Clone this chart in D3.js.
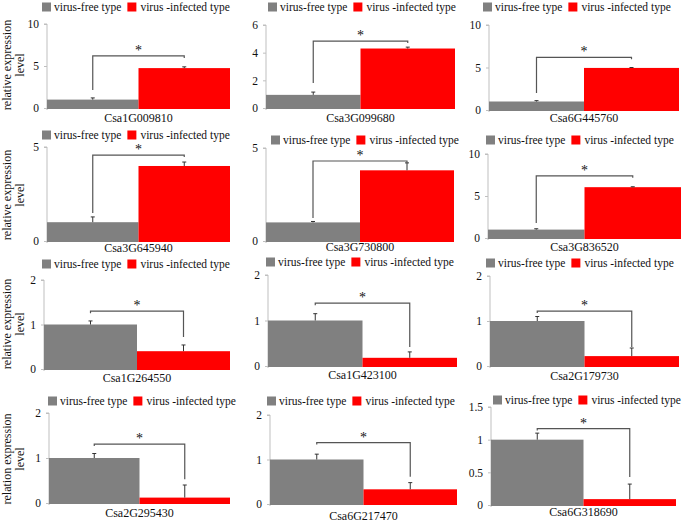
<!DOCTYPE html>
<html><head><meta charset="utf-8">
<script src="https://cdn.jsdelivr.net/npm/d3@7"></script>
<style>body{margin:0;background:#fff}svg{display:block}text{font-family:"Liberation Serif","Times New Roman",serif;fill:#111}</style>
</head><body>
<svg id="c" width="685" height="522"></svg>
<script>
// ---- data ----
const genes = ["Csa1G009810","Csa3G099680","Csa6G445760","Csa3G645940","Csa3G730800","Csa3G836520",
               "Csa1G264550","Csa1G423100","Csa2G179730","Csa2G295430","Csa6G217470","Csa6G318690"];
const seriesNames = ["virus-free type","virus -infected type"];
const freeVals = [1.0,0.95,1.0,1.0,1.0,1.0,1.0,1.0,1.0,1.0,1.0,1.0];
const freeErr  = [0.2,0.2,0.1,0.28,0.05,0.1,0.08,0.15,0.1,0.1,0.12,0.1];
const infVals  = [4.75,4.3,4.95,3.99,3.8,6.05,0.40,0.18,0.22,0.12,0.33,0.09];
const infErr   = [0.15,0.1,0.05,0.21,0.4,0.05,0.14,0.13,0.18,0.28,0.15,0.23];
const yMaxes   = [10,6,10,5,5,10,2,2,2,2,2,1.5];
const yTicks   = [[0,5,10],[0,2,4,6],[0,5,10],[0,5],[0,5],[0,5,10],[0,1,2],[0,1,2],[0,1,2],[0,1,2],[0,1,2],[0,0.5,1,1.5]];
const sigLevel = [6.2,4.84,6.2,4.57,4.3,7.4,1.30,1.38,1.22,1.31,1.38,1.17];
const sigDrop  = [2.14,1.8,2.0,1.49,1.24,1.8,0.72,0.42,0.42,0.53,0.61,0.43];
const yTitles  = [["relative expression","level"],["relative expression","level"],["relative expression","level"],["relation expression","level"]];

// ---- layout (pixels) ----
// [axisX, rightX, topY, baseY, legendX, legendY, labelY]
const layout = [
 [47,230,24,108,42,7,118],[266,455,25,108,268,7,118],[489,679,25,110,483,7,118],
 [47,230,147,241,42,135,248],[266,454,148,241,271,140,247],[488,681,154,238,486,140,247],
 [44,230,280,369,42,264,378],[268,457,275,366,266,262,375],[490,679,276,366,486,263,376],
 [49,230,413,503,48,401,513],[270,457,415,504,267,401,516],[491,676,407,505,493,400,512]];
const titleY = [65,195,324,459];
const colors = ["#808080","#ff0000"];

const svg = d3.select("#c");

genes.forEach((g,i)=>{
  const [ax,rx,ty,by,lx,ly,laby] = layout[i];
  const y = d3.scaleLinear().domain([0,yMaxes[i]]).range([by,ty]);
  const x = d3.scaleBand().domain(seriesNames).range([ax,rx]).padding(0);
  const gp = svg.append("g");
  const vals = [freeVals[i],infVals[i]], errs=[freeErr[i],infErr[i]];

  // axis
  const axis = d3.axisLeft(y).tickValues(yTicks[i]).tickSize(3).tickPadding(5).tickFormat(d3.format("~g"));
  const ag = gp.append("g").attr("transform",`translate(${ax},0)`).call(axis);
  ag.select(".domain").attr("stroke","#bfbfbf").attr("d",`M-3,${ty}H0V${by+2}`);
  ag.selectAll(".tick line").attr("stroke","#bfbfbf");
  ag.selectAll(".tick text").attr("font-size",11.5).attr("font-family","Liberation Serif").attr("fill","#111");

  // bars
  gp.selectAll("rect.bar").data(seriesNames).join("rect")
    .attr("x",d=>x(d)).attr("width",x.bandwidth())
    .attr("y",(d,k)=>y(vals[k])).attr("height",(d,k)=>y(0)-y(vals[k])+1)
    .attr("fill",(d,k)=>colors[k]);

  // error bars (upper)
  seriesNames.forEach((s,k)=>{
    const cx = x(s)+x.bandwidth()/2;
    gp.append("line").attr("x1",cx).attr("x2",cx).attr("y1",y(vals[k])).attr("y2",y(vals[k]+errs[k])).attr("stroke","#333").attr("stroke-width",1);
    gp.append("line").attr("x1",cx-2).attr("x2",cx+2).attr("y1",y(vals[k]+errs[k])).attr("y2",y(vals[k]+errs[k])).attr("stroke","#333").attr("stroke-width",1);
  });

  // significance bracket
  const c0 = x(seriesNames[0])+x.bandwidth()/2, c1 = x(seriesNames[1])+x.bandwidth()/2;
  const up = infVals[i] > freeVals[i];
  const ys = y(sigLevel[i]), yd = y(sigDrop[i]);
  const path = up ? `M${c0},${yd}V${ys}H${c1}V${ys+2}` : `M${c0},${ys+2}V${ys}H${c1}V${yd}`;
  gp.append("path").attr("d",path).attr("fill","none").attr("stroke","#555").attr("stroke-width",1.2);
  gp.append("text").attr("x",(c0+c1)/2).attr("y",ys-1).attr("text-anchor","middle").attr("font-size",14).text("*");

  // category label
  gp.append("text").attr("x",(ax+rx)/2).attr("y",laby+4).attr("text-anchor","middle").attr("font-size",12).text(g);

  // legend
  const lg = gp.append("g").attr("transform",`translate(${lx},${ly})`);
  lg.append("rect").attr("x",0).attr("y",-4.5).attr("width",9).attr("height",9).attr("fill",colors[0]);
  const t1 = lg.append("text").attr("x",12).attr("y",4).attr("font-size",11.5).text(seriesNames[0]);
  const w1 = t1.node().getComputedTextLength();
  lg.append("rect").attr("x",12+w1+6).attr("y",-4.5).attr("width",9).attr("height",9).attr("fill",colors[1]);
  lg.append("text").attr("x",12+w1+6+13).attr("y",4).attr("font-size",11.5).text(seriesNames[1]);
});

// y axis titles
yTitles.forEach((t,r)=>{
  const cy = titleY[r];
  t.forEach((line,j)=>{
    svg.append("text").attr("transform",`translate(${11+j*13},${cy}) rotate(-90)`)
      .attr("text-anchor","middle").attr("font-size",12).text(line);
  });
});
</script>
</body></html>
